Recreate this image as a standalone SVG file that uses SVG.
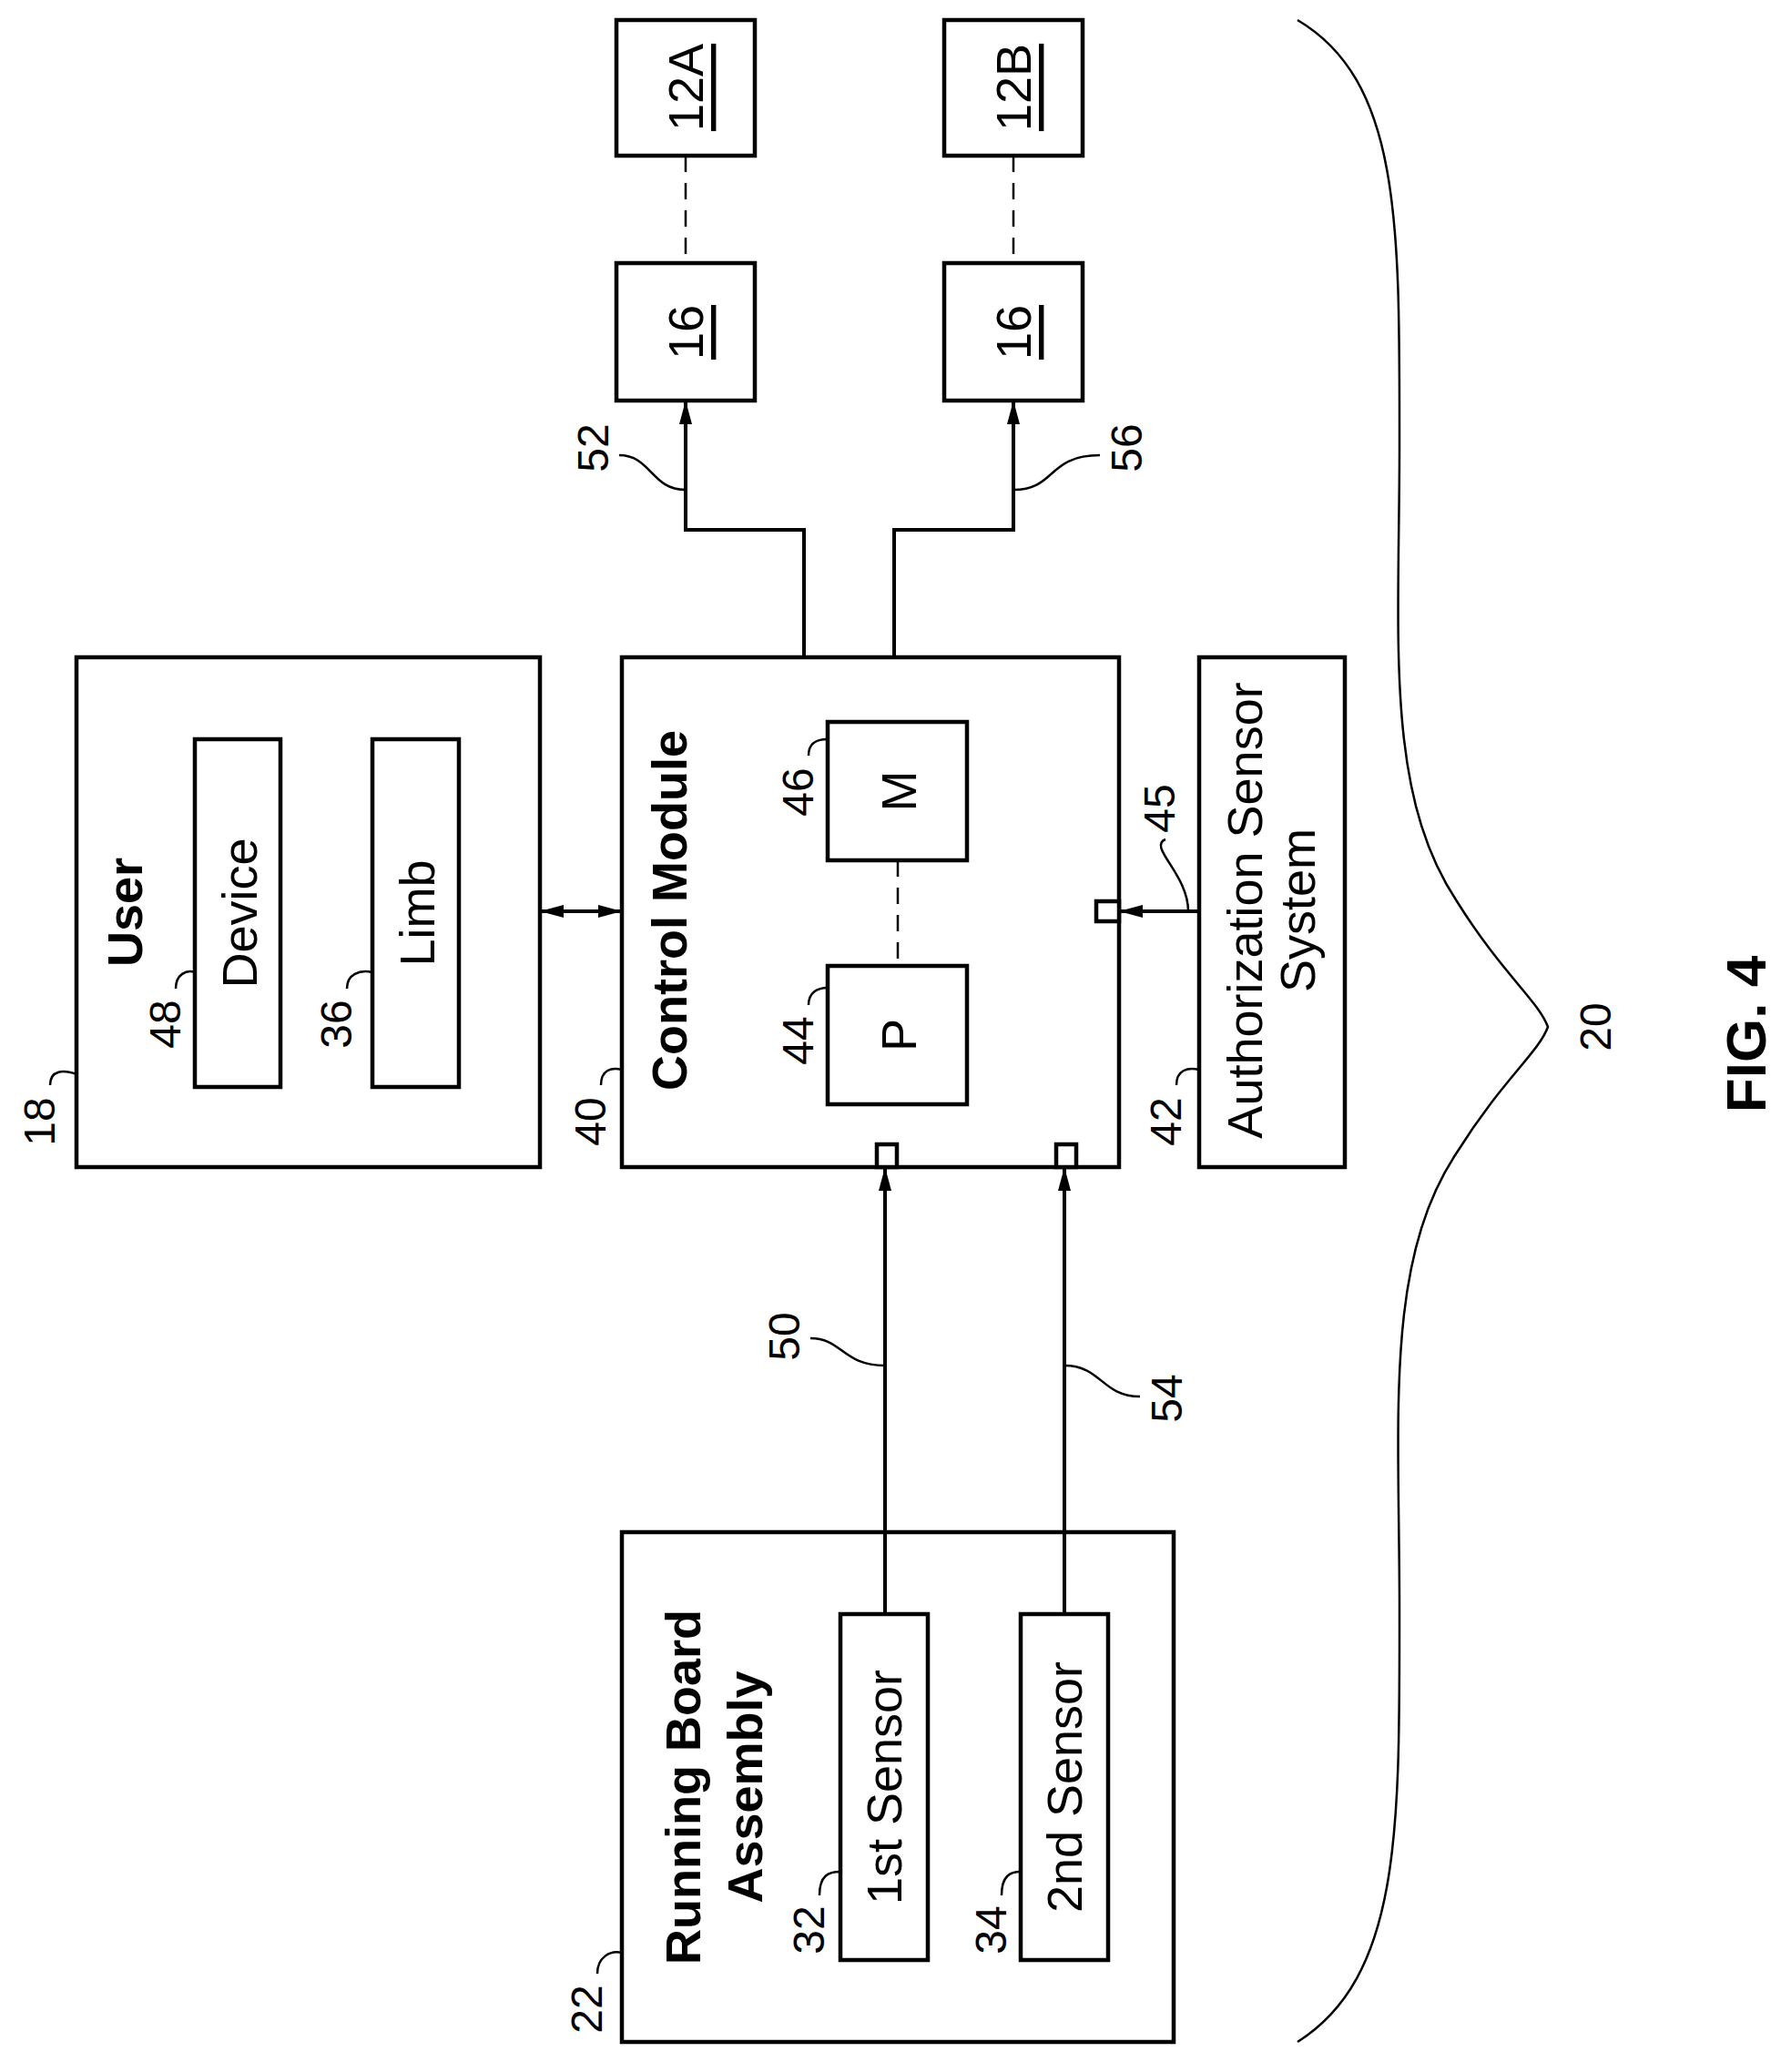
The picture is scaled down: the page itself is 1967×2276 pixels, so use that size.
<svg xmlns="http://www.w3.org/2000/svg" width="1967" height="2276" viewBox="0 0 1967 2276">
<style>
.b{fill:#fff;stroke:#000;stroke-width:4.5}
.l{fill:none;stroke:#000;stroke-width:4}
.d{fill:none;stroke:#000;stroke-width:2.5;stroke-dasharray:18,12}
.t{font-family:"Liberation Sans",Arial,sans-serif;font-size:54px;text-anchor:middle;dominant-baseline:central}
.bt{font-family:"Liberation Sans",Arial,sans-serif;font-size:54px;font-weight:bold;text-anchor:middle;dominant-baseline:central}
.r{font-family:"Liberation Sans",Arial,sans-serif;font-size:48px;text-anchor:middle;dominant-baseline:central}
.ld{fill:none;stroke:#000;stroke-width:2.5}
</style>
<defs>
<marker id="A" viewBox="0 0 26 14" refX="26" refY="7" markerWidth="26" markerHeight="14" markerUnits="userSpaceOnUse" orient="auto-start-reverse"><path d="M0,0 L26,7 L0,14 z" fill="#000"/></marker>
</defs>
<rect width="1967" height="2276" fill="#fff"/>
<g id="n12A"><rect class="b" x="677" y="22" width="152" height="149"/><text class="t" transform="translate(753,96) rotate(-90)" text-decoration="underline">12A</text></g>
<g id="n12B"><rect class="b" x="1037" y="22" width="152" height="149"/><text class="t" transform="translate(1113,96) rotate(-90)" text-decoration="underline">12B</text></g>
<g id="n16a"><rect class="b" x="677" y="289" width="152" height="151"/><text class="t" transform="translate(753,365) rotate(-90)" text-decoration="underline">16</text></g>
<g id="n16b"><rect class="b" x="1037" y="289" width="152" height="151"/><text class="t" transform="translate(1113,365) rotate(-90)" text-decoration="underline">16</text></g>
<g id="user"><rect class="b" x="84" y="722" width="509" height="560"/>
<text class="bt" transform="translate(137,1002) rotate(-90)">User</text>
<rect class="b" x="214" y="812" width="94" height="382"/><text class="t" transform="translate(263,1003) rotate(-90)">Device</text>
<rect class="b" x="409" y="812" width="95" height="382"/><text class="t" transform="translate(458,1003) rotate(-90)">Limb</text></g>
<g id="cm"><rect class="b" x="683" y="722" width="546" height="560"/>
<text class="bt" transform="translate(735,1000) rotate(-90)">Control Module</text>
<rect class="b" x="909" y="793" width="153" height="152"/><text class="t" transform="translate(987,869) rotate(-90)">M</text>
<rect class="b" x="909" y="1061" width="153" height="152"/><text class="t" transform="translate(987,1137) rotate(-90)">P</text>
<rect class="b" x="963" y="1257" width="22" height="25"/>
<rect class="b" x="1160" y="1257" width="22" height="25"/>
<rect class="b" x="1204" y="990" width="25" height="22"/></g>
<g id="auth"><rect class="b" x="1317" y="722" width="160" height="560"/>
<text class="t" transform="translate(1367,1000) rotate(-90)">Authorization Sensor</text>
<text class="t" transform="translate(1425,1000) rotate(-90)">System</text></g>
<g id="rba"><rect class="b" x="683" y="1683" width="606" height="560"/>
<text class="bt" transform="translate(750,1963) rotate(-90)">Running Board</text>
<text class="bt" transform="translate(818,1963) rotate(-90)">Assembly</text>
<rect class="b" x="923" y="1773" width="96" height="380"/><text class="t" transform="translate(971,1963) rotate(-90)">1st Sensor</text>
<rect class="b" x="1121" y="1773" width="96" height="380"/><text class="t" transform="translate(1169,1963) rotate(-90)">2nd Sensor</text></g>
<g id="connectors">
<line class="d" x1="753" y1="171" x2="753" y2="289"/>
<line class="d" x1="1113" y1="171" x2="1113" y2="289"/>
<line class="d" x1="986" y1="945" x2="986" y2="1061"/>
<path class="l" d="M883,722 V582 H753 V440" marker-end="url(#A)"/>
<path class="l" d="M982,722 V582 H1113 V440" marker-end="url(#A)"/>
<line class="l" x1="593" y1="1001" x2="683" y2="1001" marker-start="url(#A)" marker-end="url(#A)"/>
<line class="l" x1="1317" y1="1001" x2="1229" y2="1001" marker-end="url(#A)"/>
<line class="l" x1="972" y1="1773" x2="972" y2="1282" marker-end="url(#A)"/>
<line class="l" x1="1169" y1="1773" x2="1169" y2="1282" marker-end="url(#A)"/>
</g>
<g id="labels">
<text class="r" transform="translate(651,492) rotate(-90)">52</text><path class="ld" d="M680,500 C715,500 715,538 753,538"/>
<text class="r" transform="translate(1237,492) rotate(-90)">56</text><path class="ld" d="M1208,500 C1150,500 1160,538 1113,538"/>
<text class="r" transform="translate(43,1232) rotate(-90)">18</text><path class="ld" d="M55,1192 C55,1175 70,1175 84,1180"/>
<text class="r" transform="translate(181,1125) rotate(-90)">48</text><path class="ld" d="M193,1086 C193,1070 205,1065 214,1068"/>
<text class="r" transform="translate(369,1125) rotate(-90)">36</text><path class="ld" d="M381,1086 C381,1070 395,1065 409,1068"/>
<text class="r" transform="translate(648,1232) rotate(-90)">40</text><path class="ld" d="M660,1192 C660,1175 672,1172 683,1175"/>
<text class="r" transform="translate(876,1143) rotate(-90)">44</text><path class="ld" d="M888,1104 C888,1090 898,1085 909,1085"/>
<text class="r" transform="translate(876,870) rotate(-90)">46</text><path class="ld" d="M888,830 C888,815 898,812 909,812"/>
<text class="r" transform="translate(1280,1232) rotate(-90)">42</text><path class="ld" d="M1292,1192 C1292,1175 1305,1172 1317,1175"/>
<text class="r" transform="translate(1273,888) rotate(-90)">45</text><path class="ld" d="M1280,922 C1260,930 1305,960 1305,1001"/>
<text class="r" transform="translate(861,1468) rotate(-90)">50</text><path class="ld" d="M890,1470 C925,1470 925,1500 972,1500"/>
<text class="r" transform="translate(1281,1536) rotate(-90)">54</text><path class="ld" d="M1252,1534 C1210,1534 1210,1500 1169,1500"/>
<text class="r" transform="translate(888,2120) rotate(-90)">32</text><path class="ld" d="M900,2082 C900,2060 910,2056 923,2056"/>
<text class="r" transform="translate(1088,2120) rotate(-90)">34</text><path class="ld" d="M1100,2082 C1100,2060 1110,2056 1121,2056"/>
<text class="r" transform="translate(644,2207) rotate(-90)">22</text><path class="ld" d="M656,2168 C656,2150 670,2142 683,2145"/>
<text class="r" transform="translate(1752,1128) rotate(-90)">20</text>
</g>
<g id="brace"><path class="ld" d="M1425,22 C1540,90 1537,250 1537,490 C1537,700 1520,870 1600,990 C1650,1070 1690,1100 1700,1128 C1690,1156 1650,1186 1600,1266 C1520,1386 1537,1556 1537,1766 C1537,2006 1540,2170 1425,2243"/></g>
<text class="bt" style="font-size:62px" transform="translate(1917,1136) rotate(-90)">FIG. 4</text>
</svg>
